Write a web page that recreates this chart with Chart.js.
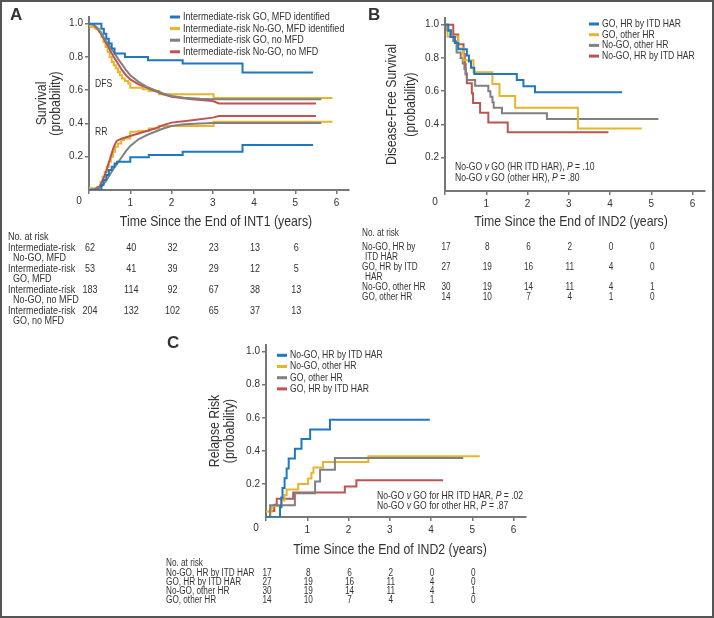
<!DOCTYPE html>
<html>
<head>
<meta charset="utf-8">
<script src="https://cdn.jsdelivr.net/npm/chart.js@4.4.1/dist/chart.umd.min.js"></script>
<style>
  html, body { margin: 0; padding: 0; background: #fff; }
  #fig { position: relative; width: 714px; height: 618px; overflow: hidden; }
  #fig canvas { position: absolute; }
  #frame { position: absolute; left: 0; top: 0; width: 714px; height: 618px; border: 2px solid #555; box-sizing: border-box; pointer-events: none; }
</style>
</head>
<body>
<div id="fig">
  <canvas id="chartA"></canvas>
  <canvas id="chartB"></canvas>
  <canvas id="chartC"></canvas>
  <div id="frame"></div>
</div>
<script>
// --- data (time in years, probability) ---
const xTicks = [0, 1, 2, 3, 4, 5, 6];
const yTicks = [0.2, 0.4, 0.6, 0.8, 1.0];
const riskTimes = [0, 1, 2, 3, 4, 5];

// panel A: DFS and RR, intermediate risk
const aBlueDfsT = [0, 0.3, 0.36, 0.42, 0.48, 0.55, 0.62, 0.87, 1.43, 2.27, 3.72, 5.43];
const aBlueDfsS = [1, 0.97, 0.94, 0.91, 0.88, 0.85, 0.82, 0.80, 0.78, 0.76, 0.707, 0.707];
const aBlueRrT = [0, 0.3, 0.35, 0.42, 0.48, 0.55, 0.62, 0.68, 1.0, 1.45, 2.27, 3.72, 5.43];
const aBlueRrS = [0, 0.03, 0.06, 0.09, 0.12, 0.14, 0.16, 0.17, 0.197, 0.21, 0.23, 0.27, 0.27];

const aYelDfsT = [0, 0.03, 0.15, 0.25, 0.3, 0.35, 0.4, 0.45, 0.5, 0.55, 0.6, 0.65, 0.7, 0.75, 0.8, 0.87, 0.95, 1.0, 1.3, 1.45, 1.7, 3.02, 5.9];
const aYelDfsS = [1, 0.98, 0.97, 0.95, 0.92, 0.89, 0.86, 0.83, 0.80, 0.77, 0.75, 0.73, 0.71, 0.69, 0.67, 0.655, 0.64, 0.615, 0.605, 0.595, 0.575, 0.553, 0.553];
const aYelRrT = [0, 0.2, 0.28, 0.33, 0.38, 0.43, 0.48, 0.53, 0.58, 0.63, 0.7, 0.78, 0.85, 1.0, 1.2, 1.45, 1.7, 3.02, 5.9];
const aYelRrS = [0.01, 0.02, 0.05, 0.08, 0.11, 0.14, 0.17, 0.20, 0.23, 0.26, 0.28, 0.30, 0.31, 0.35, 0.355, 0.37, 0.385, 0.41, 0.41];

const aGrayDfsT = [0, 0.1, 0.2, 0.3, 0.4, 0.5, 0.6, 0.7, 0.8, 0.9, 1.0, 1.2, 1.4, 1.6, 1.8, 2.0, 2.3, 2.7, 3.0, 5.63];
const aGrayDfsS = [1, 0.995, 0.975, 0.94, 0.90, 0.865, 0.83, 0.79, 0.755, 0.72, 0.69, 0.65, 0.62, 0.60, 0.58, 0.565, 0.555, 0.548, 0.545, 0.545];
const aGrayRrT = [0, 0.2, 0.3, 0.4, 0.5, 0.6, 0.7, 0.8, 0.9, 1.0, 1.2, 1.4, 1.6, 1.8, 2.0, 2.3, 2.7, 3.0, 5.63];
const aGrayRrS = [0, 0.005, 0.02, 0.05, 0.09, 0.13, 0.165, 0.20, 0.235, 0.265, 0.305, 0.33, 0.35, 0.37, 0.385, 0.395, 0.40, 0.403, 0.403];

const aRedDfsT = [0, 0.1, 0.2, 0.3, 0.4, 0.5, 0.6, 0.7, 0.8, 0.9, 1.0, 1.2, 1.4, 1.6, 1.8, 2.0, 2.5, 3.0, 3.15, 5.5];
const aRedDfsS = [1, 0.995, 0.97, 0.935, 0.89, 0.845, 0.80, 0.76, 0.72, 0.69, 0.665, 0.635, 0.615, 0.595, 0.575, 0.56, 0.545, 0.535, 0.52, 0.52];
const aRedRrT = [0, 0.15, 0.25, 0.3, 0.35, 0.4, 0.45, 0.5, 0.55, 0.6, 0.67, 0.8, 1.0, 1.2, 1.4, 1.6, 1.8, 2.0, 2.5, 3.0, 3.15, 5.5];
const aRedRrS = [0, 0.005, 0.02, 0.04, 0.07, 0.10, 0.14, 0.18, 0.22, 0.26, 0.295, 0.31, 0.325, 0.34, 0.355, 0.37, 0.39, 0.405, 0.42, 0.435, 0.445, 0.445];

const aLegend = ['Intermediate-risk GO, MFD identified', 'Intermediate-risk No-GO, MFD identified',
                 'Intermediate-risk GO, no MFD', 'Intermediate-risk No-GO, no MFD'];
const aRiskLabels = [['Intermediate-risk', 'No-GO, MFD'], ['Intermediate-risk', 'GO, MFD'],
                     ['Intermediate-risk', 'No-GO, no MFD'], ['Intermediate-risk', 'GO, no MFD']];
const aRisk = [[62, 40, 32, 23, 13, 6], [53, 41, 39, 29, 12, 5], [183, 114, 92, 67, 38, 13], [204, 132, 102, 65, 37, 13]];

// panel B: DFS by HR group
const bBlueT = [0, 0.08, 0.13, 0.24, 0.32, 0.53, 0.58, 0.63, 0.71, 1.74, 1.9, 2.18, 4.29];
const bBlueS = [1, 0.963, 0.926, 0.889, 0.852, 0.815, 0.778, 0.741, 0.704, 0.667, 0.63, 0.593, 0.593];
const bYelT = [0, 0.06, 0.32, 0.45, 0.69, 1.15, 1.32, 1.7, 3.22, 4.77];
const bYelS = [1, 0.929, 0.857, 0.786, 0.714, 0.643, 0.571, 0.5, 0.375, 0.375];
const bGrayT = [0, 0.05, 0.15, 0.2, 0.28, 0.38, 0.43, 0.47, 0.5, 0.53, 0.73, 1.05, 1.1, 1.15, 1.18, 1.38, 2.47, 5.17];
const bGrayS = [1, 0.967, 0.933, 0.9, 0.833, 0.8, 0.767, 0.733, 0.7, 0.667, 0.633, 0.6, 0.567, 0.533, 0.5, 0.467, 0.433, 0.433];
const bRedT = [0, 0.2, 0.32, 0.45, 0.48, 0.5, 0.53, 0.65, 0.68, 0.85, 1.05, 1.52, 3.96];
const bRedS = [1, 0.941, 0.882, 0.824, 0.765, 0.706, 0.647, 0.588, 0.529, 0.471, 0.412, 0.353, 0.353];
const bLegend = ['GO, HR by ITD HAR', 'GO, other HR', 'No-GO, other HR', 'No-GO, HR by ITD HAR'];
const bRiskLabels = [['No-GO, HR by', 'ITD HAR'], ['GO, HR by ITD', 'HAR'], ['No-GO, other HR'], ['GO, other HR']];
const bRisk = [[17, 8, 6, 2, 0, 0], [27, 19, 16, 11, 4, 0], [30, 19, 14, 11, 4, 1], [14, 10, 7, 4, 1, 0]];

// panel C: relapse risk by HR group
const cBlueT = [0, 0.34, 0.37, 0.4, 0.45, 0.5, 0.55, 0.7, 0.86, 1.07, 1.55, 3.97];
const cBlueS = [0, 0.059, 0.118, 0.176, 0.235, 0.294, 0.353, 0.412, 0.471, 0.529, 0.588, 0.588];
const cYelT = [0, 0.14, 0.38, 0.45, 0.5, 0.78, 1.02, 1.1, 1.15, 1.38, 2.48, 5.18];
const cYelS = [0.033, 0.067, 0.1, 0.133, 0.167, 0.2, 0.233, 0.267, 0.3, 0.333, 0.367, 0.367];
const cGrayT = [0, 0.1, 0.7, 1.19, 1.31, 1.67, 4.78];
const cGrayS = [0, 0.071, 0.143, 0.214, 0.286, 0.357, 0.357];
const cRedT = [0, 0.1, 0.2, 0.26, 0.66, 1.91, 2.19, 4.29];
const cRedS = [0, 0.037, 0.074, 0.111, 0.148, 0.185, 0.222, 0.222];
const cLegend = ['No-GO, HR by ITD HAR', 'No-GO, other HR', 'GO, other HR', 'GO, HR by ITD HAR'];
const cRiskLabels = [['No-GO, HR by ITD HAR'], ['GO, HR by ITD HAR'], ['No-GO, other HR'], ['GO, other HR']];
const cRisk = [[17, 8, 6, 2, 0, 0], [27, 19, 16, 11, 4, 0], [30, 19, 14, 11, 4, 1], [14, 10, 7, 4, 1, 0]];

// --- styling ---
const FONT = '"Liberation Sans", Arial, sans-serif';
const SQUEEZE = 0.82;   // the source face is a narrow sans
const BLUE = '#1f78bf', YELLOW = '#e8b52a', GRAY = '#808080', RED = '#bf5350';
const AXIS = '#777777';
const TEXT = '#333333';

Chart.defaults.font.family = FONT;
Chart.defaults.color = TEXT;

function curve(t, s, color, stepped) {
    return {
        data: t.map((x, i) => ({ x: x, y: s[i] })),
        borderColor: color,
        borderWidth: 2,
        pointRadius: 0,
        fill: false,
        tension: 0,
        stepped: stepped === false ? false : 'before'
    };
}

// narrow text: draw squeezed horizontally
function narrow(ctx, text, x, y, size, align, opts) {
    opts = opts || {};
    ctx.save();
    ctx.font = (opts.italic ? 'italic ' : '') + (opts.bold ? 'bold ' : '') + size + 'px ' + FONT;
    ctx.translate(x, y);
    if (opts.rotate) ctx.rotate(opts.rotate);
    ctx.scale(SQUEEZE, 1);
    ctx.textAlign = align || 'left';
    ctx.fillText(text, 0, 0);
    const w = ctx.measureText(text).width * SQUEEZE;
    ctx.restore();
    return w;
}

function drawRuns(ctx, x, y, runs, size) {
    runs.forEach(r => {
        x += narrow(ctx, r[0], x, y, size, 'left', { italic: r[1] });
    });
}

// extra drawing: letter, titles, legend, notes, origin "0" and the numbers at risk
function extras(cfg) {
    return {
        id: 'extras',
        afterDraw(chart) {
            const ctx = chart.ctx;
            const xs = chart.scales.x;
            const ca = chart.chartArea;
            ctx.save();
            ctx.translate(-cfg.left, -cfg.top);
            ctx.fillStyle = TEXT;
            ctx.textBaseline = 'middle';

            ctx.font = 'bold 17px ' + FONT;
            ctx.textAlign = 'left';
            ctx.fillText(cfg.letter.text, cfg.letter.x, cfg.letter.y);

            ctx.font = '10px ' + FONT;
            ctx.textAlign = 'center';
            ctx.fillText('0', cfg.left + ca.left - 10, cfg.top + ca.bottom + 11);

            // axis titles
            narrow(ctx, cfg.xTitle.text, cfg.xTitle.x, cfg.xTitle.y, 15, 'center');
            cfg.yTitle.lines.forEach((line, i) => {
                narrow(ctx, line, cfg.yTitle.x[i], cfg.top + (ca.top + ca.bottom) / 2, 15, 'center', { rotate: -Math.PI / 2 });
            });

            const lg = cfg.legend;
            lg.labels.forEach((lab, i) => {
                const y = lg.y + i * lg.gap;
                ctx.strokeStyle = lg.colors[i];
                ctx.lineWidth = 3;
                ctx.beginPath();
                ctx.moveTo(lg.x, y);
                ctx.lineTo(lg.x + 10, y);
                ctx.stroke();
                narrow(ctx, lab, lg.x + 13, y, lg.size, 'left');
            });

            cfg.notes.forEach(n => drawRuns(ctx, n.x, n.y, n.runs, n.size));

            const tb = cfg.table;
            narrow(ctx, 'No. at risk', tb.x, tb.headY, tb.size, 'left');
            tb.labels.forEach((lines, i) => {
                lines.forEach((line, j) => {
                    narrow(ctx, line, j ? tb.x + tb.indent : tb.x, tb.rowY[i] + j * tb.lineGap, tb.size, 'left');
                });
                tb.values[i].forEach((v, k) => {
                    narrow(ctx, String(v), cfg.left + xs.getPixelForValue(riskTimes[k]) + 1, tb.rowY[i], tb.size, 'center');
                });
            });
            ctx.restore();
        }
    };
}

function panel(cfg) {
    const canvas = document.getElementById(cfg.id);
    const A = cfg.area;
    canvas.width = cfg.w;
    canvas.height = cfg.h;
    canvas.style.left = cfg.left + 'px';
    canvas.style.top = cfg.top + 'px';
    const tickFont = { family: FONT, size: 10 };
    new Chart(canvas, {
        type: 'line',
        data: { datasets: cfg.datasets },
        options: {
            responsive: false,
            animation: false,
            layout: { padding: { left: 0, top: A.top, right: cfg.w - A.right, bottom: cfg.h - A.bottom - cfg.xh } },
            plugins: { legend: { display: false }, tooltip: { enabled: false } },
            scales: {
                x: {
                    type: 'linear', min: 0, max: 6.3,
                    afterFit: s => { s.height = cfg.xh; },
                    afterBuildTicks: s => { s.ticks = xTicks.map(v => ({ value: v })); },
                    ticks: { font: tickFont, color: TEXT, padding: 3, maxRotation: 0, autoSkip: false,
                             callback: v => v === 0 ? '' : String(v) },
                    grid: { drawOnChartArea: false, drawTicks: true, tickLength: 4, color: AXIS, lineWidth: 1.5 },
                    border: { display: true, color: AXIS, width: 2 }
                },
                y: {
                    type: 'linear', min: 0, max: 1.04,
                    afterFit: s => { s.width = A.left; },
                    afterBuildTicks: s => { s.ticks = yTicks.map(v => ({ value: v })); },
                    ticks: { font: tickFont, color: TEXT, padding: 2, callback: v => v.toFixed(1) },
                    grid: { drawOnChartArea: false, drawTicks: true, tickLength: 4, color: AXIS, lineWidth: 1.5 },
                    border: { display: true, color: AXIS, width: 2 }
                }
            }
        },
        plugins: [extras(cfg)]
    });
}

panel({
    id: 'chartA', left: 0, top: 0, w: 360, h: 335,
    area: { left: 89, top: 17, right: 349, bottom: 190 },
    xh: 42,
    xTitle: { text: 'Time Since the End of INT1 (years)', x: 216, y: 222 },
    yTitle: { lines: ['Survival', '(probability)'], x: [42, 56] },
    datasets: [
        curve(aBlueDfsT, aBlueDfsS, BLUE),
        curve(aBlueRrT, aBlueRrS, BLUE),
        curve(aGrayDfsT, aGrayDfsS, GRAY, false),
        curve(aGrayRrT, aGrayRrS, GRAY, false),
        curve(aRedDfsT, aRedDfsS, RED, false),
        curve(aRedRrT, aRedRrS, RED, false),
        curve(aYelDfsT, aYelDfsS, YELLOW),
        curve(aYelRrT, aYelRrS, YELLOW)
    ],
    letter: { text: 'A', x: 10, y: 15 },
    legend: { x: 170, y: 17, gap: 11.6, size: 11, labels: aLegend, colors: [BLUE, YELLOW, GRAY, RED] },
    notes: [
        { x: 95, y: 84, size: 10.5, runs: [['DFS', 0]] },
        { x: 95, y: 132, size: 10.5, runs: [['RR', 0]] }
    ],
    table: { x: 8, indent: 5, headY: 237, rowY: [248, 269, 290, 311], lineGap: 10, size: 11,
             labels: aRiskLabels, values: aRisk }
});

panel({
    id: 'chartB', left: 360, top: 0, w: 354, h: 310,
    area: { left: 85, top: 18, right: 345, bottom: 191 },
    xh: 42,
    xTitle: { text: 'Time Since the End of IND2 (years)', x: 571, y: 222 },
    yTitle: { lines: ['Disease-Free Survival', '(probability)'], x: [392, 410.5] },
    datasets: [
        curve(bBlueT, bBlueS, BLUE),
        curve(bYelT, bYelS, YELLOW),
        curve(bGrayT, bGrayS, GRAY),
        curve(bRedT, bRedS, RED)
    ],
    letter: { text: 'B', x: 368, y: 15 },
    legend: { x: 589, y: 24, gap: 10.7, size: 10.5, labels: bLegend, colors: [BLUE, YELLOW, GRAY, RED] },
    notes: [
        { x: 455, y: 167, size: 10.5, runs: [['No-GO ', 0], ['v', 1], [' GO (HR ITD HAR), ', 0], ['P', 1], [' = .10', 0]] },
        { x: 455, y: 178, size: 10.5, runs: [['No-GO ', 0], ['v', 1], [' GO (other HR), ', 0], ['P', 1], [' = .80', 0]] }
    ],
    table: { x: 362, indent: 3, headY: 233, rowY: [247, 267, 287, 297], lineGap: 10, size: 10,
             labels: bRiskLabels, values: bRisk }
});

panel({
    id: 'chartC', left: 150, top: 335, w: 400, h: 278,
    area: { left: 116, top: 10, right: 376, bottom: 182 },
    xh: 42,
    xTitle: { text: 'Time Since the End of IND2 (years)', x: 390, y: 550 },
    yTitle: { lines: ['Relapse Risk', '(probability)'], x: [215, 230] },
    datasets: [
        curve(cBlueT, cBlueS, BLUE),
        curve(cGrayT, cGrayS, GRAY),
        curve(cYelT, cYelS, YELLOW),
        curve(cRedT, cRedS, RED)
    ],
    letter: { text: 'C', x: 167, y: 343 },
    legend: { x: 277, y: 355.3, gap: 11.2, size: 10.5, labels: cLegend, colors: [BLUE, YELLOW, GRAY, RED] },
    notes: [
        { x: 377, y: 496, size: 10.5, runs: [['No-GO ', 0], ['v', 1], [' GO for HR ITD HAR, ', 0], ['P', 1], [' = .02', 0]] },
        { x: 377, y: 506, size: 10.5, runs: [['No-GO ', 0], ['v', 1], [' GO for other HR, ', 0], ['P', 1], [' = .87', 0]] }
    ],
    table: { x: 166, indent: 0, headY: 563, rowY: [573, 582, 591, 600], lineGap: 10, size: 10,
             labels: cRiskLabels, values: cRisk }
});
</script>
</body>
</html>
